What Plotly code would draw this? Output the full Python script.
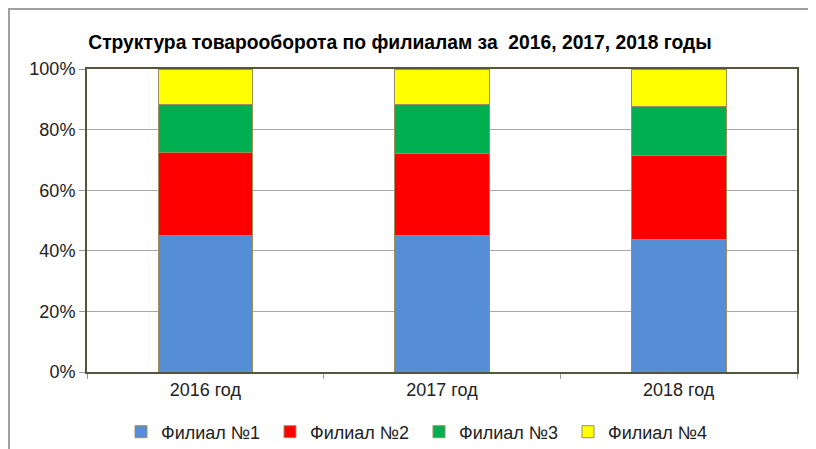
import plotly.graph_objects as go

categories = ["2016 год", "2017 год", "2018 год"]
series_names = ["Филиал №1", "Филиал №2", "Филиал №3", "Филиал №4"]
filial1 = [44.9, 44.9, 43.7]
filial2 = [27.7, 27.1, 27.8]
filial3 = [15.6, 16.2, 16.2]
filial4 = [11.8, 11.8, 12.3]
colors = ["#558ED5", "#FF0000", "#00B050", "#FFFF00"]
y_ticks = [0, 20, 40, 60, 80, 100]
y_tick_labels = ["0%", "20%", "40%", "60%", "80%", "100%"]
title_text = "Структура товарооборота по филиалам за  2016, 2017, 2018 годы"

fig = go.Figure()
for name, vals, col in zip(series_names, [filial1, filial2, filial3, filial4], colors):
    fig.add_trace(go.Bar(
        x=categories, y=vals, name=name,
        marker=dict(color=col, line=dict(color="#9C8E5E", width=1)),
    ))

OFF = 8  # page body margin
W, H = 816 - OFF, 449 - OFF
# plot area in page pixels: x 87..797, y 69..372
ml, mt = 87 - OFF, 69 - OFF
pw, ph = 797 - 87, 372 - 69
mr = W - (797 - OFF)
mb = H - (372 - OFF)

def px_x(x):  # page pixel -> paper
    return (x - 87) / pw

def px_y(y):
    return (372 - y) / ph

fig.update_layout(
    width=W, height=H,
    barmode="stack", bargap=0.6,
    margin=dict(l=ml, r=mr, t=mt, b=mb, autoexpand=False),
    paper_bgcolor="white", plot_bgcolor="white",
    font=dict(family="Liberation Sans, Arial, sans-serif", color="#222222", size=16),
    title=dict(text="<b>" + title_text + "</b>", x=(400 - OFF) / W, xanchor="center",
               y=1 - (42 - OFF) / H, yanchor="middle",
               font=dict(family="Liberation Sans, Arial, sans-serif", size=19.3, color="#000000")),
    showlegend=True,
    legend=dict(orientation="h", x=px_x(419), xanchor="center",
                y=px_y(432), yanchor="middle",
                font=dict(size=18, color="#222222"), entrywidth=104, entrywidthmode="pixels",
                traceorder="normal", itemwidth=30),
    xaxis=dict(type="category", showline=True, linecolor="#55553E", linewidth=2, mirror=True,
               ticks="outside", tickson="boundaries", ticklen=5, tickcolor="#9A9A9A",
               tickfont=dict(size=18, color="#222222"), showgrid=False),
    yaxis=dict(range=[0, 100], tickvals=y_ticks, ticktext=y_tick_labels,
               showline=True, linecolor="#55553E", linewidth=2, mirror=True,
               ticks="outside", ticklen=6, tickcolor="#9A9A9A",
               showgrid=True, gridcolor="#A6A6A6", gridwidth=1,
               tickfont=dict(size=18, color="#222222"), zeroline=False),
)

# outer chart-area border
fig.add_shape(type="rect", xref="paper", yref="paper",
              x0=px_x(9), x1=px_x(830),
              y0=px_y(470), y1=px_y(9),
              line=dict(color="#A0A0A0", width=2), layer="below")

fig.write_html("out.html")
